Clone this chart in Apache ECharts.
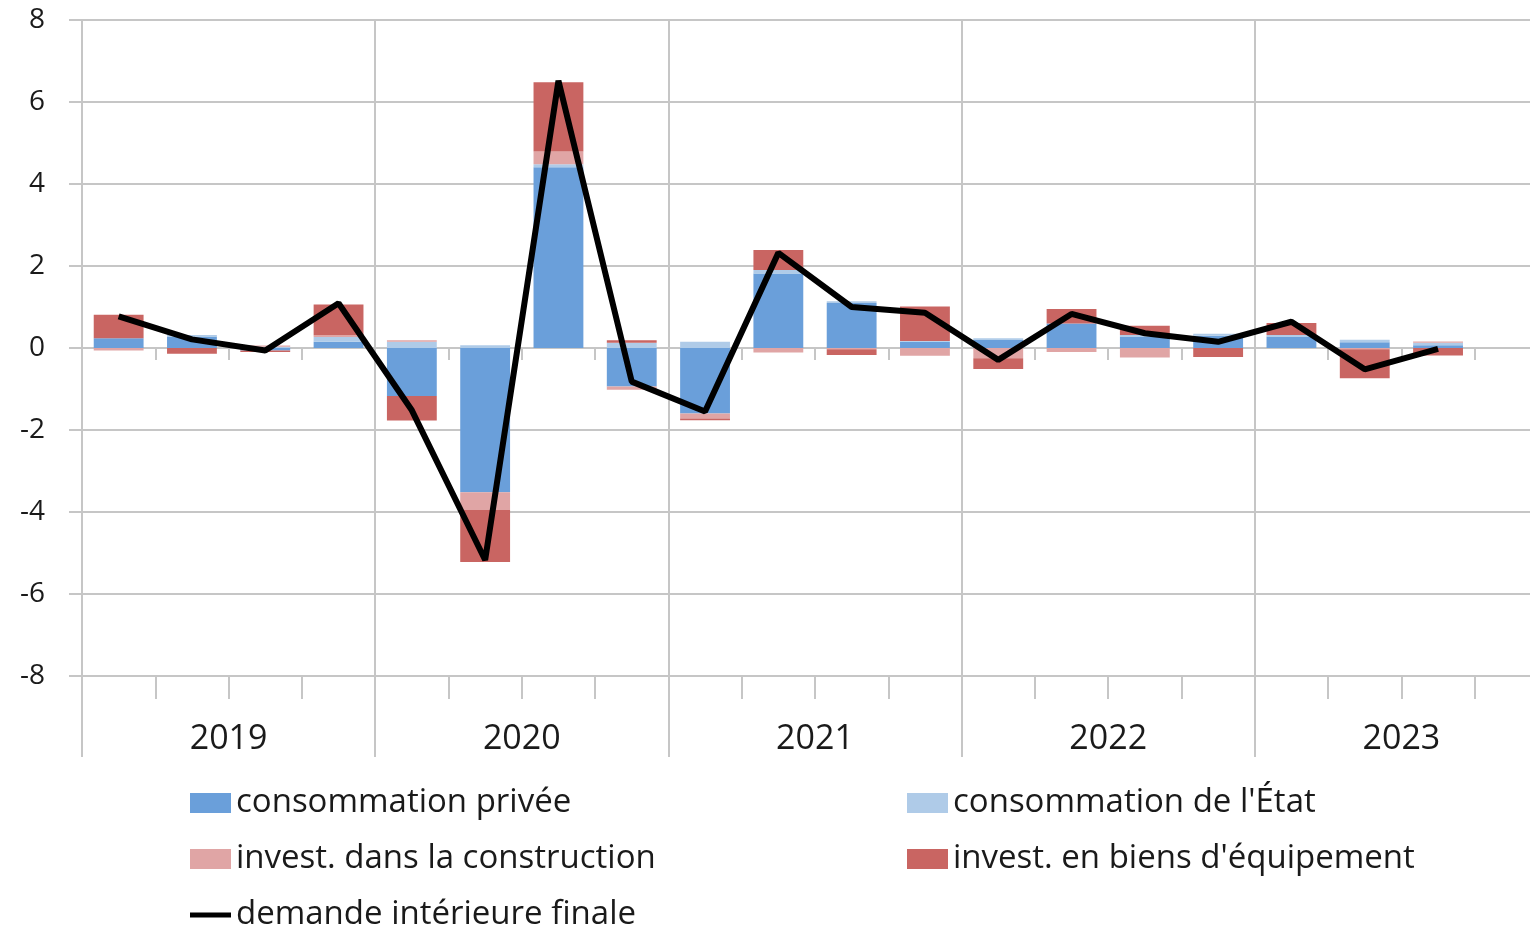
<!DOCTYPE html>
<html>
<head>
<meta charset="utf-8">
<script src="https://cdn.jsdelivr.net/npm/echarts@6/dist/echarts.min.js"></script>
<style>
  html, body { margin: 0; padding: 0; background: #fff; }
  #chart { width: 1530px; height: 932px; }
</style>
</head>
<body>
<div id="chart"></div>
<script>
// quarters 2019T1 .. 2023T4 (last slot left empty, as in the original)
const quarters = [
  '2019T1', '2019T2', '2019T3', '2019T4',
  '2020T1', '2020T2', '2020T3', '2020T4',
  '2021T1', '2021T2', '2021T3', '2021T4',
  '2022T1', '2022T2', '2022T3', '2022T4',
  '2023T1', '2023T2', '2023T3', '2023T4'
]
const years = ['2019', '2020', '2021', '2022', '2023']

const consoPrivee = [0.24, 0.28, -0.06, 0.15, -1.17, -3.52, 4.41, -0.94, -1.60, 1.82, 1.10, 0.15, 0.21, 0.60, 0.28, 0.30, 0.28, 0.14, 0.07, null]
const consoEtat = [0.00, 0.04, 0.03, 0.12, 0.15, 0.07, 0.07, 0.13, 0.15, 0.08, 0.04, 0.02, 0.03, 0.00, 0.04, 0.05, 0.04, 0.06, 0.06, null]
const investConstr = [-0.06, 0.00, 0.03, 0.04, 0.04, -0.43, 0.31, -0.08, -0.12, -0.11, -0.03, -0.19, -0.25, -0.10, -0.23, 0.00, 0.00, -0.03, 0.03, null]
const investEquip = [0.57, -0.14, -0.04, 0.75, -0.60, -1.27, 1.69, 0.06, -0.04, 0.49, -0.14, 0.84, -0.26, 0.35, 0.22, -0.22, 0.29, -0.71, -0.18, null]
const demande = [0.77, 0.21, -0.06, 1.09, -1.52, -5.17, 6.52, -0.82, -1.55, 2.32, 1.00, 0.86, -0.29, 0.83, 0.36, 0.15, 0.64, -0.52, -0.02, null]

const FONT = 'Open Sans'
const GRID_COLOR = '#c6c6c6'
const TEXT_COLOR = '#1a1a1a'

function barSeries(name, data, color) {
  return {
    name: name,
    type: 'bar',
    stack: 'total',
    xAxisIndex: 0,
    barCategoryGap: '32%',
    data: data,
    itemStyle: { color: color },
    emphasis: { disabled: true }
  }
}

function legendBox(left, top, names, iconH) {
  return {
    orient: 'vertical',
    left: left,
    top: top,
    padding: 0,
    itemWidth: 41,
    itemHeight: iconH,
    itemGap: 20,
    icon: 'rect',
    itemStyle: { borderWidth: 0 },
    textStyle: { fontSize: 33, lineHeight: 36, color: TEXT_COLOR, fontFamily: FONT },
    data: names
  }
}

const option = {
  animation: false,
  textStyle: { fontFamily: FONT },
  grid: { left: 82, top: 20, width: 1466, height: 656, containLabel: false, outerBoundsMode: 'none' },
  xAxis: [
    {
      // quarter axis, crossing at zero
      type: 'category',
      data: quarters,
      axisLine: { onZero: true, lineStyle: { color: GRID_COLOR, width: 2 } },
      axisTick: { show: true, interval: 0, length: 12, lineStyle: { color: GRID_COLOR, width: 2 } },
      axisLabel: { show: false },
      splitLine: { show: false }
    },
    {
      // quarter dividers under the plot
      type: 'category',
      data: quarters,
      position: 'bottom',
      offset: 0,
      axisLine: { onZero: false, lineStyle: { color: GRID_COLOR, width: 2 } },
      axisTick: { show: true, interval: 0, length: 23, lineStyle: { color: GRID_COLOR, width: 2 } },
      axisLabel: { show: false },
      splitLine: { show: false }
    },
    {
      // year groups
      type: 'category',
      data: years,
      position: 'bottom',
      offset: 0,
      axisLine: { onZero: false, show: false },
      axisTick: { show: true, interval: 0, length: 81, lineStyle: { color: GRID_COLOR, width: 2 } },
      axisLabel: { interval: 0, margin: 46, fontSize: 34, color: TEXT_COLOR, fontFamily: FONT },
      splitLine: { show: true, interval: 0, lineStyle: { color: GRID_COLOR, width: 2 } }
    }
  ],
  yAxis: {
    type: 'value',
    min: -8,
    max: 8,
    interval: 2,
    axisLine: { show: true, lineStyle: { color: GRID_COLOR, width: 2 } },
    axisTick: { show: true, length: 13, lineStyle: { color: GRID_COLOR, width: 2 } },
    axisLabel: { margin: 37, fontSize: 28, color: TEXT_COLOR, fontFamily: FONT },
    splitLine: { lineStyle: { color: GRID_COLOR, width: 2 } }
  },
  legend: [
    legendBox(190, 785, ['consommation privée', 'invest. dans la construction'], 20),
    legendBox(907, 785, ["consommation de l'État", "invest. en biens d'équipement"], 20),
    legendBox(190, 897, ['demande intérieure finale'], 5)
  ],
  series: [
    barSeries('consommation privée', consoPrivee, '#6a9fda'),
    barSeries("consommation de l'État", consoEtat, '#afcbe8'),
    barSeries('invest. dans la construction', investConstr, '#e0a5a5'),
    barSeries("invest. en biens d'équipement", investEquip, '#c96562'),
    {
      name: 'demande intérieure finale',
      type: 'line',
      xAxisIndex: 0,
      data: demande,
      symbol: 'none',
      z: 5,
      lineStyle: { color: '#000', width: 6 },
      itemStyle: { color: '#000' },
      emphasis: { disabled: true }
    }
  ]
}

const chart = echarts.init(document.getElementById('chart'))
chart.setOption(option)
</script>
</body>
</html>
